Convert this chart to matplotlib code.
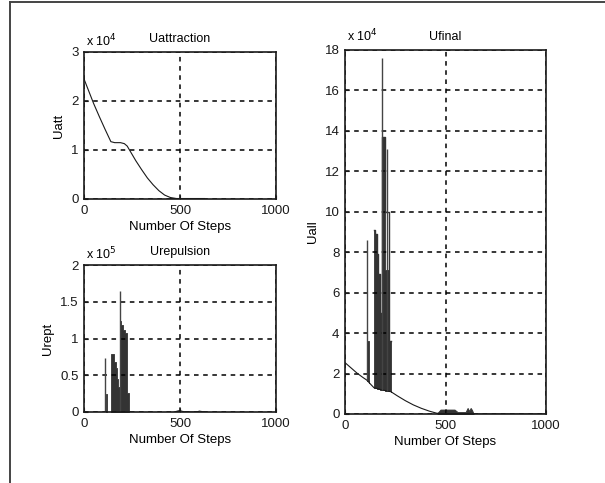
import matplotlib
matplotlib.use("Agg")
import matplotlib.pyplot as plt
from matplotlib.lines import Line2D
from matplotlib.ticker import FormatStrFormatter

plt.rcParams['font.family'] = ['Liberation Sans', 'DejaVu Sans']
plt.rcParams['font.size'] = 9

# Uattraction (x 10^4)
uatt_steps = [0, 20, 50, 80, 110, 140, 160, 190, 210, 225, 240, 270, 300, 330, 360, 390, 420, 450, 480, 520, 560, 620]
uatt_vals = [2.45, 2.25, 1.95, 1.68, 1.42, 1.17, 1.15, 1.15, 1.13, 1.08, 0.98, 0.78, 0.60, 0.43, 0.29, 0.17, 0.08, 0.03, 0.01, 0.0, 0.0, 0.0]
uatt_tail_steps = [455, 620]
uatt_tail_vals = [0.0, 0.0]

# Urepulsion (x 10^5)
urep_block_steps = [143, 158, 165, 172, 178, 188, 194, 205, 214, 222, 235]
urep_block_top = [0.79, 0.68, 0.60, 0.45, 0.34, 1.24, 1.18, 1.12, 1.07, 0.26, 0.26]
urep_spike_steps = [109, 187]
urep_spike_top = [0.73, 1.65]
urep_bar_steps = [115, 120]
urep_bar_top = [0.25, 0.25]
urep_tail_steps = [470, 490, 500, 510, 530, 590, 600, 610, 625]
urep_tail_vals = [0.0, 0.015, 0.02, 0.01, 0.0, 0.0, 0.012, 0.008, 0.0]

# Ufinal (x 10^4)
ufin_steps = [0, 30, 60, 90, 108, 120, 144, 180, 229, 260, 300, 340, 380, 420, 456, 480, 550, 600, 640, 700, 1000]
ufin_vals = [2.54, 2.28, 2.02, 1.80, 1.68, 1.55, 1.30, 1.20, 1.10, 0.90, 0.66, 0.45, 0.28, 0.14, 0.04, 0.02, 0.02, 0.01, 0.0, 0.0, 0.0]
ufin_block_steps = [144, 151, 158, 166, 175, 184, 188, 200, 221, 229]
ufin_block_outline = [9.1, 8.9, 7.9, 6.9, 5.0, 13.7, 13.7, 10.0, 3.6, 3.6]
ufin_block_fill = [9.1, 8.9, 7.9, 6.9, 5.0, 13.7, 13.7, 7.1, 3.6, 3.6]
ufin_block_bottom = [1.3, 1.28, 1.25, 1.22, 1.2, 1.18, 1.17, 1.15, 1.12, 1.1]
ufin_bar_steps = [110, 121]
ufin_bar_top = [3.6, 3.6]
ufin_bar_bottom = [1.65, 1.55]
ufin_spike_steps = [108, 186, 211]
ufin_spike_bottom = [1.68, 1.18, 1.15]
ufin_spike_top = [8.6, 17.6, 13.1]
ufin_tail_steps = [460, 475, 545, 560, 600, 610, 618, 625, 632, 640]
ufin_tail_vals = [0.05, 0.22, 0.22, 0.1, 0.1, 0.3, 0.15, 0.3, 0.2, 0.0]

W, H = 605, 483
fig = plt.figure(figsize=(W / 100, H / 100), dpi=100)

ink = '#1a1a1a'
dark = '#333333'


def px_axes(x0, y0, x1, y1):
    return fig.add_axes([x0 / W, 1 - y1 / H, (x1 - x0) / W, (y1 - y0) / H])


def style(ax, yticks, ylim, title, ylabel, expo):
    ax.set_xlim(0, 1000)
    ax.set_ylim(*ylim)
    ax.set_xticks([0, 500, 1000])
    ax.set_yticks(yticks)
    ax.yaxis.set_major_formatter(FormatStrFormatter('%g'))
    ax.grid(True, color='black', linestyle=(0, (3, 3)), linewidth=1.1)
    for s in ax.spines.values():
        s.set_linewidth(1.2)
        s.set_color(ink)
    ax.tick_params(direction='in', length=3, width=0.8, pad=4, colors=ink, labelsize=9.5)
    ax.set_title(title, fontsize=9, pad=7)
    ax.set_xlabel('Number Of Steps', fontsize=9.5, labelpad=3)
    ax.set_ylabel(ylabel, fontsize=9.5, labelpad=4)
    ax.text(0.01, 1.015, 'x 10$^{%d}$' % expo, transform=ax.transAxes,
            fontsize=9, ha='left', va='bottom')


def block(ax, x, lo, hi):
    ax.fill_between(x, lo, hi, step='post', facecolor=dark, edgecolor=dark, lw=0.6)


# top-left: Uattraction
ax1 = px_axes(84, 52, 276, 199)
ax1.plot(uatt_steps, uatt_vals, color=ink, lw=0.8)
ax1.plot(uatt_tail_steps, uatt_tail_vals, color=ink, lw=2.2)
style(ax1, [0, 1, 2, 3], (0, 3), 'Uattraction', 'Uatt', 4)

# bottom-left: Urepulsion
ax2 = px_axes(84, 265, 276, 412)
block(ax2, urep_block_steps, 0, urep_block_top)
block(ax2, urep_bar_steps, 0, urep_bar_top)
ax2.vlines(urep_spike_steps, 0, urep_spike_top, color='#444444', lw=1.0)
ax2.plot(urep_tail_steps, urep_tail_vals, color=ink, lw=0.8)
style(ax2, [0, 0.5, 1, 1.5, 2], (0, 2), 'Urepulsion', 'Urept', 5)

# right: Ufinal
ax3 = px_axes(345, 50, 546, 414)
ax3.plot(ufin_steps, ufin_vals, color=ink, lw=0.8)
block(ax3, ufin_block_steps, ufin_block_bottom, ufin_block_fill)
ax3.step(ufin_block_steps, ufin_block_outline, where='post', color=dark, lw=1.0)
block(ax3, ufin_bar_steps, ufin_bar_bottom, ufin_bar_top)
ax3.vlines(ufin_spike_steps, ufin_spike_bottom, ufin_spike_top, color='#444444', lw=1.0)
ax3.fill_between(ufin_tail_steps, 0, ufin_tail_vals, color=dark, lw=0.6)
style(ax3, list(range(0, 19, 2)), (0, 18), 'Ufinal', 'Uall', 4)

# page frame lines
fig.add_artist(Line2D([10 / W, 1], [1 - 2 / H, 1 - 2 / H], color='#444444', lw=1.4))
fig.add_artist(Line2D([10 / W, 10 / W], [0, 1 - 2 / H], color='#444444', lw=1.4))

fig.savefig('out.png', dpi=100)
